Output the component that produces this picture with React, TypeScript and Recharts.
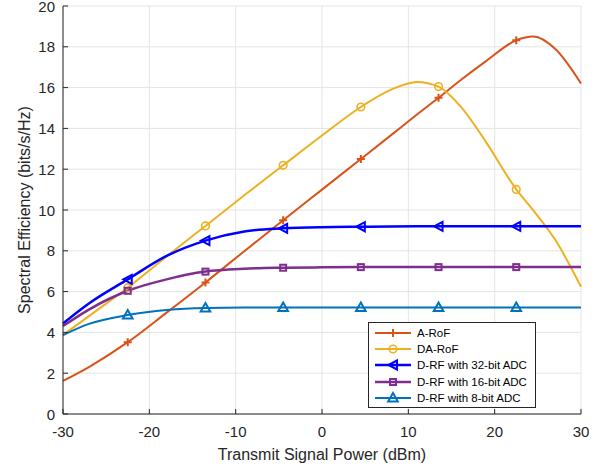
import React from "react";
import {
    ComposedChart,
    Line,
    XAxis,
    YAxis,
    CartesianGrid,
    Legend,
    Label,
} from "recharts";

// transmit power samples (dBm) and the powers that carry a marker
const POWER_DBM = [-30, -27, -22.5, -18, -13.5, -9, -4.5, 0, 4.5, 8, 11, 13.5, 16, 19, 22.5, 24.5, 27, 30];
const MARKER_DBM = [-22.5, -13.5, -4.5, 4.5, 13.5, 22.5];

// spectral efficiency (bits/s/Hz) per scheme
const A_ROF = [1.62, 2.3, 3.52, 4.97, 6.45, 7.98, 9.5, 11.0, 12.5, 13.67, 14.68, 15.5, 16.35, 17.3, 18.32, 18.5, 17.9, 16.2];
const DA_ROF = [3.87, 4.8, 6.19, 7.72, 9.22, 10.72, 12.19, 13.65, 15.05, 15.9, 16.28, 16.05, 15.1, 13.33, 11.01, 9.97, 8.55, 6.24];
const DRF_32 = [4.44, 5.42, 6.6, 7.75, 8.5, 8.95, 9.1, 9.16, 9.18, 9.19, 9.2, 9.2, 9.2, 9.2, 9.2, 9.2, 9.2, 9.2];
const DRF_16 = [4.31, 5.12, 6.04, 6.6, 6.98, 7.12, 7.17, 7.19, 7.2, 7.2, 7.2, 7.2, 7.2, 7.2, 7.2, 7.2, 7.2, 7.2];
const DRF_8 = [3.87, 4.42, 4.85, 5.1, 5.2, 5.22, 5.22, 5.22, 5.22, 5.22, 5.22, 5.22, 5.22, 5.22, 5.22, 5.22, 5.22, 5.22];

const X_TICKS = [-30, -20, -10, 0, 10, 20, 30];
const Y_TICKS = [0, 2, 4, 6, 8, 10, 12, 14, 16, 18, 20];

type MarkerKind = "plus" | "circle" | "triLeft" | "square" | "triUp";

const SERIES: { key: string; name: string; color: string; width: number; marker: MarkerKind; values: number[] }[] = [
    { key: "aRoF", name: "A-RoF", color: "#D95319", width: 2, marker: "plus", values: A_ROF },
    { key: "daRoF", name: "DA-RoF", color: "#EDB120", width: 2, marker: "circle", values: DA_ROF },
    { key: "drf32", name: "D-RF with 32-bit ADC", color: "#0000FF", width: 2.5, marker: "triLeft", values: DRF_32 },
    { key: "drf16", name: "D-RF with 16-bit ADC", color: "#7E2F8E", width: 2.5, marker: "square", values: DRF_16 },
    { key: "drf8", name: "D-RF with 8-bit ADC", color: "#0072BD", width: 2, marker: "triUp", values: DRF_8 },
];

const chartData = POWER_DBM.map((p, i) => {
    const row: Record<string, number> = { power: p };
    SERIES.forEach((s) => {
        row[s.key] = s.values[i];
    });
    return row;
});

const AXIS_COLOR = "#262626";
const GRID_COLOR = "#e4e4e4";
const FONT = "'Liberation Sans', Arial, Helvetica, sans-serif";
const TICK_LEN = 5;
const BOTTOM_GAP = 4;
const LEFT_GAP = 8;

const MarkerShape = ({ kind, cx, cy, color }: { kind: MarkerKind; cx: number; cy: number; color: string }) => {
    switch (kind) {
        case "plus":
            return <path d={`M${cx - 4},${cy}H${cx + 4}M${cx},${cy - 4}V${cy + 4}`} stroke={color} strokeWidth={2} fill="none" />;
        case "circle":
            return <circle cx={cx} cy={cy} r={3.8} stroke={color} strokeWidth={1.6} fill="none" />;
        case "triLeft":
            return <path d={`M${cx - 4.5},${cy}L${cx + 4},${cy - 4.5}L${cx + 4},${cy + 4.5}Z`} stroke={color} strokeWidth={2} fill="none" />;
        case "square":
            return <rect x={cx - 3} y={cy - 3} width={6} height={6} stroke={color} strokeWidth={2} fill="none" />;
        case "triUp":
            return <path d={`M${cx},${cy - 5}L${cx + 4.8},${cy + 3.5}L${cx - 4.8},${cy + 3.5}Z`} stroke={color} strokeWidth={2} fill="none" />;
    }
    return null;
};

const markerDot = (kind: MarkerKind, color: string) => (props: any) => {
    const { cx, cy, payload, index } = props;
    if (!MARKER_DBM.includes(payload.power)) return <g key={`m-${index}`} />;
    return (
        <g key={`m-${index}`}>
            <MarkerShape kind={kind} cx={cx} cy={cy} color={color} />
        </g>
    );
};

// inward ticks, like a boxed plot
const BottomTick = (props: any) => {
    const { x, y, payload } = props;
    const axisY = y - BOTTOM_GAP;
    return (
        <g>
            <line x1={x} x2={x} y1={axisY} y2={axisY - TICK_LEN} stroke={AXIS_COLOR} />
            <text x={x} y={axisY + 23} textAnchor="middle" fill={AXIS_COLOR} fontSize={15} fontFamily={FONT}>
                {payload.value}
            </text>
        </g>
    );
};

const TopTick = (props: any) => {
    const { x, y } = props;
    return <line x1={x} x2={x} y1={y} y2={y + TICK_LEN} stroke={AXIS_COLOR} />;
};

const LeftTick = (props: any) => {
    const { x, y, payload } = props;
    const axisX = x + LEFT_GAP;
    return (
        <g>
            <line x1={axisX} x2={axisX + TICK_LEN} y1={y} y2={y} stroke={AXIS_COLOR} />
            <text x={x} y={y} dy={5.5} textAnchor="end" fill={AXIS_COLOR} fontSize={15} fontFamily={FONT}>
                {payload.value}
            </text>
        </g>
    );
};

const RightTick = (props: any) => {
    const { x, y } = props;
    return <line x1={x} x2={x - TICK_LEN} y1={y} y2={y} stroke={AXIS_COLOR} />;
};

const LegendBox = () => (
    <div
        style={{
            border: `1px solid ${AXIS_COLOR}`,
            background: "#fff",
            padding: "2px 8px 1px 4px",
            fontFamily: FONT,
            fontSize: 11.5,
            color: "#000",
        }}
    >
        {SERIES.map((s) => (
            <div key={s.key} style={{ display: "flex", alignItems: "center", height: 16.2 }}>
                <svg width={40} height={14} style={{ marginRight: 4 }}>
                    <line x1={2} x2={38} y1={7} y2={7} stroke={s.color} strokeWidth={s.width} />
                    <MarkerShape kind={s.marker} cx={20} cy={7} color={s.color} />
                </svg>
                <span>{s.name}</span>
            </div>
        ))}
    </div>
);

const YTitle = (props: any) => {
    const { viewBox } = props;
    const cx = viewBox.x + 19;
    const cy = viewBox.y + viewBox.height / 2;
    return (
        <text x={cx} y={cy} transform={`rotate(-90, ${cx}, ${cy})`} textAnchor="middle" dominantBaseline="central" fill={AXIS_COLOR} fontSize={16} fontFamily={FONT}>
            Spectral Efficiency (bits/s/Hz)
        </text>
    );
};

const XTitle = (props: any) => {
    const { viewBox } = props;
    const cx = viewBox.x + viewBox.width / 2;
    return (
        <text x={cx} y={viewBox.y + 46} textAnchor="middle" fill={AXIS_COLOR} fontSize={16} fontFamily={FONT}>
            Transmit Signal Power (dBm)
        </text>
    );
};

export default function App() {
    return (
        <div style={{ position: "absolute", left: 0, top: 0, background: "#fff" }}>
            <ComposedChart
                width={607}
                height={469}
                data={chartData}
                margin={{ top: 6, right: 26, bottom: 0, left: 5 }}
            >
                <CartesianGrid stroke={GRID_COLOR} strokeWidth={1} />
                <XAxis
                    dataKey="power"
                    type="number"
                    domain={[-30, 30]}
                    ticks={X_TICKS}
                    height={55}
                    tickSize={0}
                    tickMargin={BOTTOM_GAP}
                    tickLine={false}
                    axisLine={{ stroke: AXIS_COLOR }}
                    tick={<BottomTick />}
                    interval={0}
                >
                    <Label content={<XTitle />} />
                </XAxis>
                <XAxis
                    xAxisId="top"
                    orientation="top"
                    type="number"
                    domain={[-30, 30]}
                    ticks={X_TICKS}
                    height={0}
                    tickSize={0}
                    tickMargin={0}
                    tickLine={false}
                    axisLine={{ stroke: AXIS_COLOR }}
                    tick={<TopTick />}
                    interval={0}
                />
                <YAxis
                    type="number"
                    domain={[0, 20]}
                    ticks={Y_TICKS}
                    width={58}
                    tickSize={0}
                    tickMargin={LEFT_GAP}
                    tickLine={false}
                    axisLine={{ stroke: AXIS_COLOR }}
                    tick={<LeftTick />}
                    interval={0}
                >
                    <Label content={<YTitle />} />
                </YAxis>
                <YAxis
                    yAxisId="right"
                    orientation="right"
                    type="number"
                    domain={[0, 20]}
                    ticks={Y_TICKS}
                    width={0}
                    tickSize={0}
                    tickMargin={0}
                    tickLine={false}
                    axisLine={{ stroke: AXIS_COLOR }}
                    tick={<RightTick />}
                    interval={0}
                />
                {SERIES.map((s) => (
                    <Line
                        key={s.key}
                        type="monotone"
                        dataKey={s.key}
                        name={s.name}
                        stroke={s.color}
                        strokeWidth={s.width}
                        dot={markerDot(s.marker, s.color)}
                        activeDot={false}
                        isAnimationActive={false}
                    />
                ))}
                <Legend
                    layout="horizontal"
                    verticalAlign="middle"
                    align="center"
                    wrapperStyle={{ left: 368, top: 322, width: "auto" }}
                    content={<LegendBox />}
                />
            </ComposedChart>
        </div>
    );
}
